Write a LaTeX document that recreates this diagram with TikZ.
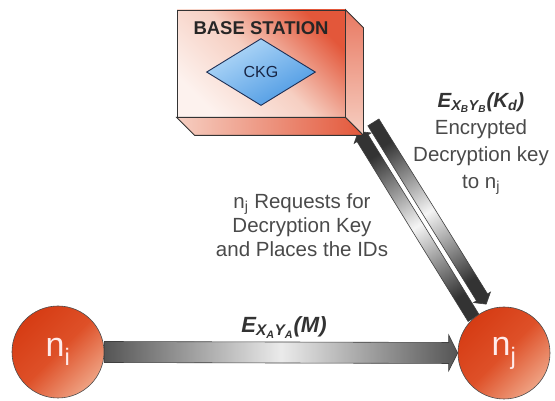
\documentclass[tikz,border=0pt]{standalone}
\usepackage{fontspec}
\setmainfont{Liberation Sans}
\usepackage{tikz}
\usetikzlibrary{calc}
\usetikzlibrary{shapes.geometric}
\usetikzlibrary{positioning}
\usetikzlibrary{backgrounds}
\definecolor{moteRed}{HTML}{D63C14}
\definecolor{moteMid}{HTML}{DE5028}
\definecolor{motePale}{HTML}{EFA283}
\definecolor{boxRed}{HTML}{E3573A}
\definecolor{boxPink}{HTML}{F6CFC2}
\definecolor{boxPale}{HTML}{FDF2EE}
\definecolor{ckgLight}{HTML}{B5DAF8}
\definecolor{ckgBlue}{HTML}{4A98E3}
\definecolor{ckgLine}{HTML}{1E2F55}
\definecolor{txtGray}{HTML}{4A4A4A}
\definecolor{barGray}{HTML}{555555}

\begin{document}
\begin{tikzpicture}[x=1pt, y=1pt, mote/.style={circle, draw=black!70, line width=0.6pt, minimum size=92pt, inner sep=0pt, top color=moteRed, bottom color=motePale, middle color=moteMid, shading angle=45, text=white!92!red, font=\fontsize{34}{40}\selectfont}]
    \tikzset{lbl/.style={inner sep=0pt, text=txtGray, align=center, font=\fontsize{20.5}{24}\selectfont}}
    \tikzset{face/.style={draw=black!80, line width=0.8pt}}
    \tikzset{hbar/.style={draw=black!75, line width=0.6pt, left color=barGray, right color=barGray, middle color=black!8},
    dbar/.style={draw=black!75, line width=0.6pt, top color=black!80, bottom color=black!80, middle color=black!4, shading angle=32}}
    % fat arrow: style, from, to, half width, half head width, head length
    \def\fatarrow#1#2#3#4#5#6{\path[#1] ($(#2)!#4!90:(#3)$) -- ($(#3)!#6!(#2)!#4!90:(#3)$) -- ($(#3)!#6!(#2)!#5!90:(#3)$) -- (#3) -- ($(#3)!#6!(#2)!#5!-90:(#3)$) -- ($(#3)!#6!(#2)!#4!-90:(#3)$) -- ($(#2)!#4!-90:(#3)$) -- cycle;}
    \def \dep {18}
    \useasboundingbox (0,0) rectangle (555,401);

    \node[mote] (ni) at (58,49) {n\textsubscript{i}};
    \node[mote] (nj) at (504,48) {n\textsubscript{j}};

    \node[face, minimum width=168pt, minimum height=107pt, top color=boxRed, bottom color=boxPale, middle color=boxPink, shading angle=-45] (bs) at (261,337.5) {};
    \draw[face, top color=boxRed!80, bottom color=boxPink] (bs.north east) -- ++(\dep,-\dep) -- ($(bs.south east)+(\dep,-\dep)$) -- (bs.south east) -- cycle;
    \draw[face, left color=boxPink, right color=boxRed] (bs.south west) -- (bs.south east) -- ++(\dep,-\dep) -- ($(bs.south west)+(\dep,-\dep)$) -- cycle;
    \node[inner sep=0pt, text=black!85, font=\fontsize{18.5}{22}\selectfont\bfseries, below=12pt of bs.north] (title) {BASE STATION};
    \node[diamond, draw=ckgLine, line width=0.9pt, minimum width=109pt, minimum height=67pt, inner sep=0pt, top color=ckgLight, bottom color=ckgBlue, shading angle=30, text=ckgLine!80!black, font=\fontsize{16}{19}\selectfont, below=3pt of title] (ckg) {CKG};

    \coordinate (reqtip) at ($(bs.south east)+(13,-14)$);
    \coordinate (keytail) at ($(bs.south east)+(28,-5)$);
    \coordinate (keytip) at ($(nj.center)+(110:52)$);
    \begin{pgfonlayer}{background}
    \fatarrow{hbar}{ni.east}{nj.west}{10.5pt}{18pt}{9pt}
    \fatarrow{dbar}{nj.131}{reqtip}{6.5pt}{10pt}{8pt}
    \fatarrow{dbar}{keytail}{keytip}{6.5pt}{10pt}{8pt}
    \end{pgfonlayer}

    \path (ni.east) -- (nj.west) node[midway, above=14pt, xshift=3pt, inner sep=0pt, text=black!80, font=\fontsize{22}{24}\selectfont\bfseries\itshape] (msg) {E\textsubscript{X\textsubscript{A}Y\textsubscript{A}}(M)};
    \node[lbl] (req) at (302,176) {n\textsubscript{j} Requests for\\Decryption Key\\and Places the IDs};
    \node[lbl, anchor=north, font=\fontsize{20.5}{27}\selectfont] (key) at (481,309) {{\color{black!80}\bfseries\itshape E\textsubscript{X\textsubscript{B}Y\textsubscript{B}}(K\textsubscript{d})}\\Encrypted\\Decryption key\\to n\textsubscript{j}};
\end{tikzpicture}
\end{document}
